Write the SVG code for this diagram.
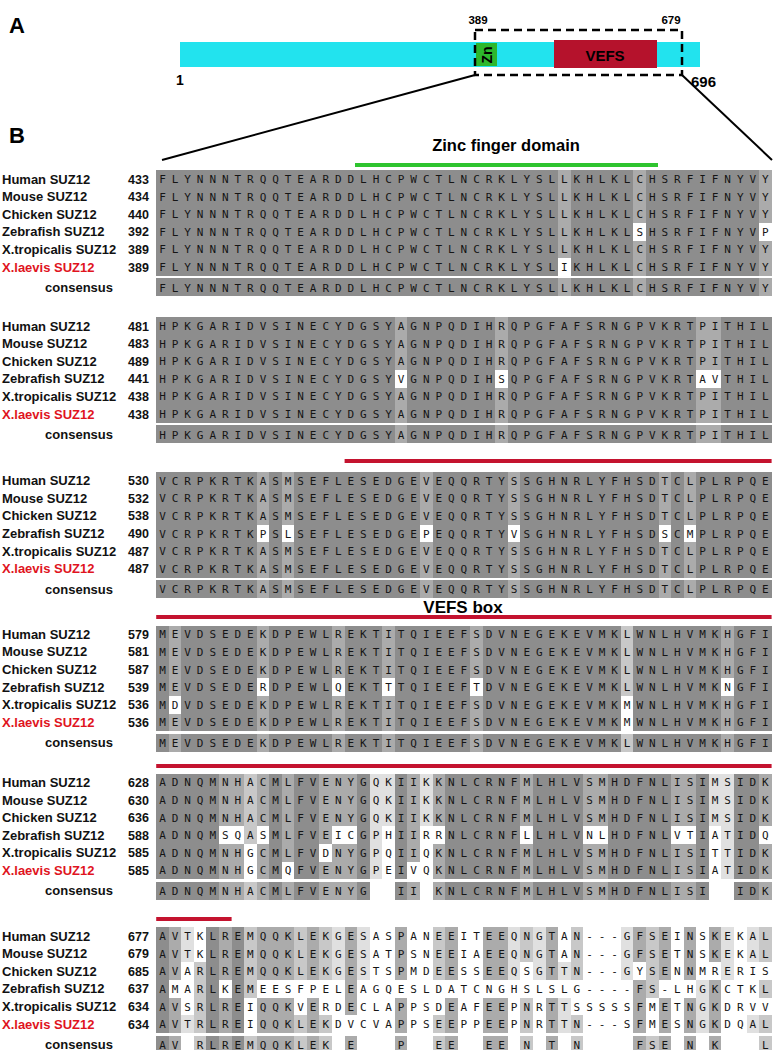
<svg xmlns="http://www.w3.org/2000/svg" width="777" height="1050" viewBox="0 0 777 1050">
<style>
.lab{font-family:'Liberation Sans',Arial,sans-serif;font-weight:bold;font-size:13px;fill:#111}
.num{font-size:12.5px}
.red{fill:#e0141e}
.seq{font-family:'DejaVu Sans Mono',monospace;font-size:11px;letter-spacing:5.937px;fill:#151515}
.d6{fill:#8d8d8d}.d5{fill:#ababab}.d4{fill:#c8c8c8}.d3{fill:#e0e0e0}.w{fill:#ffffff}
.bar{fill:#c4132f}
.big{font-family:'Liberation Sans',Arial,sans-serif;font-weight:bold}
</style>
<rect width="777" height="1050" fill="#fff"/>

<g id="panelA">
<text class="big" x="9" y="33" font-size="22">A</text>
<rect x="180" y="42" width="520" height="25" fill="#22e3ee"/>
<rect x="476" y="43" width="21" height="23" fill="#2db82d"/>
<text class="big" font-size="14" transform="translate(492,55) rotate(-90)" text-anchor="middle">Zn</text>
<rect x="554" y="40" width="103" height="28" fill="#b5122c"/>
<text class="big" x="605" y="61" font-size="15" text-anchor="middle">VEFS</text>
<rect x="475" y="30" width="207" height="45" fill="none" stroke="#000" stroke-width="2.5" stroke-dasharray="8,5"/>
<text class="big" x="478" y="24" font-size="11.5" text-anchor="middle">389</text>
<text class="big" x="671" y="24" font-size="11.5" text-anchor="middle">679</text>
<text class="big" x="176" y="85" font-size="14">1</text>
<text class="big" x="691" y="87" font-size="15">696</text>
</g>

<g id="connectors" stroke="#000" stroke-width="2" fill="none">
<line x1="475" y1="75" x2="162" y2="160"/>
<line x1="682" y1="75" x2="772" y2="160"/>
</g>

<g id="panelB-headers">
<text class="big" x="9" y="143" font-size="22">B</text>
<text class="big" x="506" y="151" font-size="16.5" text-anchor="middle">Zinc finger domain</text>
<rect x="355" y="163" width="303" height="4" fill="#2ec42e"/>
<rect class="bar" x="344.6" y="459" width="427" height="4"/>
<text class="big" x="463" y="613" font-size="17" text-anchor="middle">VEFS box</text>
<rect class="bar" x="156.2" y="615" width="615.4" height="4"/>
<rect class="bar" x="156.2" y="764" width="615.4" height="4"/>
<rect class="bar" x="156.2" y="917" width="75.4" height="4"/>
</g>

<!-- Block 1 -->
<g id="block1">
<g transform="translate(156.2,170.2) scale(12.56,17.6)" shape-rendering="crispEdges">
<rect class="d6" width="49" height="7.17"/>
<rect class="d5" x="32" width="1" height="7.17"/><rect class="d5" x="38" width="1" height="7.17"/><rect class="d5" x="48" width="1" height="7.17"/>
<rect class="w" x="32" y="5" width="1" height="1"/><rect class="w" x="38" y="3" width="1" height="1"/><rect class="w" x="48" y="3" width="1" height="1"/>
<rect class="w" y="6" width="49" height="0.15"/>
</g>
<g class="lab">
<text x="2" y="183.5">Human SUZ12</text><text x="2" y="201.1">Mouse SUZ12</text><text x="2" y="218.7">Chicken SUZ12</text><text x="2" y="236.3">Zebrafish SUZ12</text><text x="2" y="253.9">X.tropicalis SUZ12</text><text class="lab red" x="2" y="271.5">X.laevis SUZ12</text><text x="113" y="292" text-anchor="end">consensus</text>
<text class="lab num" x="128" y="183.5">433</text><text class="lab num" x="128" y="201.1">434</text><text class="lab num" x="128" y="218.7">440</text><text class="lab num" x="128" y="236.3">392</text><text class="lab num" x="128" y="253.9">389</text><text class="lab num" x="128" y="271.5">389</text>
</g>
<g class="seq">
<text x="159.17" y="183">FLYNNNTRQQTEARDDLHCPWCTLNCRKLYSLLKHLKLCHSRFIFNYVY</text>
<text x="159.17" y="200.6">FLYNNNTRQQTEARDDLHCPWCTLNCRKLYSLLKHLKLCHSRFIFNYVY</text>
<text x="159.17" y="218.2">FLYNNNTRQQTEARDDLHCPWCTLNCRKLYSLLKHLKLCHSRFIFNYVY</text>
<text x="159.17" y="235.8">FLYNNNTRQQTEARDDLHCPWCTLNCRKLYSLLKHLKLSHSRFIFNYVP</text>
<text x="159.17" y="253.4">FLYNNNTRQQTEARDDLHCPWCTLNCRKLYSLLKHLKLCHSRFIFNYVY</text>
<text x="159.17" y="271">FLYNNNTRQQTEARDDLHCPWCTLNCRKLYSLIKHLKLCHSRFIFNYVY</text>
<text x="159.17" y="291.5">FLYNNNTRQQTEARDDLHCPWCTLNCRKLYSLLKHLKLCHSRFIFNYVY</text>
</g>
</g>

<!-- Block 2 -->
<g id="block2">
<g transform="translate(156.2,317.2) scale(12.56,17.6)" shape-rendering="crispEdges">
<rect class="d6" width="49" height="7.17"/>
<rect class="d5" x="19" width="1" height="7.17"/><rect class="d5" x="27" width="1" height="7.17"/><rect class="d5" x="43" width="2" height="7.17"/>
<rect class="w" x="19" y="3" width="1" height="1"/><rect class="w" x="27" y="3" width="1" height="1"/><rect class="w" x="43" y="3" width="2" height="1"/>
<rect class="w" y="6" width="49" height="0.15"/>
</g>
<g class="lab">
<text x="2" y="330.5">Human SUZ12</text><text x="2" y="348.1">Mouse SUZ12</text><text x="2" y="365.7">Chicken SUZ12</text><text x="2" y="383.3">Zebrafish SUZ12</text><text x="2" y="400.9">X.tropicalis SUZ12</text><text class="lab red" x="2" y="418.5">X.laevis SUZ12</text><text x="113" y="439" text-anchor="end">consensus</text>
<text class="lab num" x="128" y="330.5">481</text><text class="lab num" x="128" y="348.1">483</text><text class="lab num" x="128" y="365.7">489</text><text class="lab num" x="128" y="383.3">441</text><text class="lab num" x="128" y="400.9">438</text><text class="lab num" x="128" y="418.5">438</text>
</g>
<g class="seq">
<text x="159.17" y="330">HPKGARIDVSINECYDGSYAGNPQDIHRQPGFAFSRNGPVKRTPITHIL</text>
<text x="159.17" y="347.6">HPKGARIDVSINECYDGSYAGNPQDIHRQPGFAFSRNGPVKRTPITHIL</text>
<text x="159.17" y="365.2">HPKGARIDVSINECYDGSYAGNPQDIHRQPGFAFSRNGPVKRTPITHIL</text>
<text x="159.17" y="382.8">HPKGARIDVSINECYDGSYVGNPQDIHSQPGFAFSRNGPVKRTAVTHIL</text>
<text x="159.17" y="400.4">HPKGARIDVSINECYDGSYAGNPQDIHRQPGFAFSRNGPVKRTPITHIL</text>
<text x="159.17" y="418">HPKGARIDVSINECYDGSYAGNPQDIHRQPGFAFSRNGPVKRTPITHIL</text>
<text x="159.17" y="438.5">HPKGARIDVSINECYDGSYAGNPQDIHRQPGFAFSRNGPVKRTPITHIL</text>
</g>
</g>

<!-- Block 3 -->
<g id="block3">
<g transform="translate(156.2,471.9) scale(12.56,17.6)" shape-rendering="crispEdges">
<rect class="d6" width="49" height="7.17"/>
<rect class="d5" x="8" width="1" height="7.17"/><rect class="d5" x="10" width="1" height="7.17"/><rect class="d5" x="21" width="1" height="7.17"/><rect class="d5" x="28" width="1" height="7.17"/><rect class="d5" x="40" width="1" height="7.17"/><rect class="d5" x="42" width="1" height="7.17"/>
<rect class="w" x="8" y="3" width="1" height="1"/><rect class="w" x="10" y="3" width="1" height="1"/><rect class="w" x="21" y="3" width="1" height="1"/><rect class="w" x="28" y="3" width="1" height="1"/><rect class="w" x="40" y="3" width="1" height="1"/><rect class="w" x="42" y="3" width="1" height="1"/>
<rect class="w" y="6" width="49" height="0.15"/>
</g>
<g class="lab">
<text x="2" y="485.2">Human SUZ12</text><text x="2" y="502.8">Mouse SUZ12</text><text x="2" y="520.4">Chicken SUZ12</text><text x="2" y="538">Zebrafish SUZ12</text><text x="2" y="555.6">X.tropicalis SUZ12</text><text class="lab red" x="2" y="573.2">X.laevis SUZ12</text><text x="113" y="593.7" text-anchor="end">consensus</text>
<text class="lab num" x="128" y="485.2">530</text><text class="lab num" x="128" y="502.8">532</text><text class="lab num" x="128" y="520.4">538</text><text class="lab num" x="128" y="538">490</text><text class="lab num" x="128" y="555.6">487</text><text class="lab num" x="128" y="573.2">487</text>
</g>
<g class="seq">
<text x="159.17" y="484.7">VCRPKRTKASMSEFLESEDGEVEQQRTYSSGHNRLYFHSDTCLPLRPQE</text>
<text x="159.17" y="502.3">VCRPKRTKASMSEFLESEDGEVEQQRTYSSGHNRLYFHSDTCLPLRPQE</text>
<text x="159.17" y="519.9">VCRPKRTKASMSEFLESEDGEVEQQRTYSSGHNRLYFHSDTCLPLRPQE</text>
<text x="159.17" y="537.5">VCRPKRTKPSLSEFLESEDGEPEQQRTYVSGHNRLYFHSDSCMPLRPQE</text>
<text x="159.17" y="555.1">VCRPKRTKASMSEFLESEDGEVEQQRTYSSGHNRLYFHSDTCLPLRPQE</text>
<text x="159.17" y="572.7">VCRPKRTKASMSEFLESEDGEVEQQRTYSSGHNRLYFHSDTCLPLRPQE</text>
<text x="159.17" y="593.2">VCRPKRTKASMSEFLESEDGEVEQQRTYSSGHNRLYFHSDTCLPLRPQE</text>
</g>
</g>

<!-- Block 4 -->
<g id="block4">
<g transform="translate(156.2,625.5) scale(12.56,17.6)" shape-rendering="crispEdges">
<rect class="d6" width="49" height="7.17"/>
<rect class="d5" x="1" width="1" height="7.17"/><rect class="d5" x="8" width="1" height="7.17"/><rect class="d5" x="14" width="1" height="7.17"/><rect class="d5" x="18" width="1" height="7.17"/><rect class="d5" x="25" width="1" height="7.17"/><rect class="d5" x="45" width="1" height="7.17"/><rect class="d4" x="37" width="1" height="7.17"/>
<rect class="w" x="1" y="4" width="1" height="1"/><rect class="w" x="8" y="3" width="1" height="1"/><rect class="w" x="14" y="3" width="1" height="1"/><rect class="w" x="18" y="3" width="1" height="1"/><rect class="w" x="25" y="3" width="1" height="1"/><rect class="w" x="45" y="3" width="1" height="1"/><rect class="w" x="37" y="4" width="1" height="2"/>
<rect class="w" y="6" width="49" height="0.15"/>
</g>
<g class="lab">
<text x="2" y="638.8">Human SUZ12</text><text x="2" y="656.4">Mouse SUZ12</text><text x="2" y="674">Chicken SUZ12</text><text x="2" y="691.6">Zebrafish SUZ12</text><text x="2" y="709.2">X.tropicalis SUZ12</text><text class="lab red" x="2" y="726.8">X.laevis SUZ12</text><text x="113" y="747.3" text-anchor="end">consensus</text>
<text class="lab num" x="128" y="638.8">579</text><text class="lab num" x="128" y="656.4">581</text><text class="lab num" x="128" y="674">587</text><text class="lab num" x="128" y="691.6">539</text><text class="lab num" x="128" y="709.2">536</text><text class="lab num" x="128" y="726.8">536</text>
</g>
<g class="seq">
<text x="159.17" y="638.3">MEVDSEDEKDPEWLREKTITQIEEFSDVNEGEKEVMKLWNLHVMKHGFI</text>
<text x="159.17" y="655.9">MEVDSEDEKDPEWLREKTITQIEEFSDVNEGEKEVMKLWNLHVMKHGFI</text>
<text x="159.17" y="673.5">MEVDSEDEKDPEWLREKTITQIEEFSDVNEGEKEVMKLWNLHVMKHGFI</text>
<text x="159.17" y="691.1">MEVDSEDERDPEWLQEKTTTQIEEFTDVNEGEKEVMKLWNLHVMKNGFI</text>
<text x="159.17" y="708.7">MDVDSEDEKDPEWLREKTITQIEEFSDVNEGEKEVMKMWNLHVMKHGFI</text>
<text x="159.17" y="726.3">MEVDSEDEKDPEWLREKTITQIEEFSDVNEGEKEVMKMWNLHVMKHGFI</text>
<text x="159.17" y="746.8">MEVDSEDEKDPEWLREKTITQIEEFSDVNEGEKEVMKLWNLHVMKHGFI</text>
</g>
</g>

<!-- Block 5 -->
<g id="block5">
<g transform="translate(156.2,773.6) scale(12.56,17.6)" shape-rendering="crispEdges">
<rect class="d6" width="49" height="7.17"/>
<rect class="d5" x="5" width="2" height="7.17"/><rect class="d4" x="7" width="1" height="7.17"/><rect class="d5" x="8" width="1" height="7.17"/><rect class="d5" x="10" width="1" height="7.17"/><rect class="d5" x="13" width="3" height="7.17"/><rect class="d5" x="20" width="1" height="7.17"/><rect class="d5" x="22" width="1" height="7.17"/><rect class="d5" x="29" width="1" height="7.17"/><rect class="d5" x="34" width="2" height="7.17"/><rect class="d5" x="41" width="2" height="7.17"/><rect class="d5" x="48" width="1" height="7.17"/>
<rect class="w" x="5" y="3" width="2" height="1"/><rect class="w" x="7" y="4" width="1" height="2"/><rect class="w" x="8" y="3" width="1" height="1"/><rect class="w" x="10" y="5" width="1" height="1"/><rect class="w" x="13" y="4" width="1" height="1"/><rect class="w" x="14" y="3" width="2" height="1"/><rect class="w" x="20" y="5" width="1" height="1"/><rect class="w" x="22" y="3" width="1" height="1"/><rect class="w" x="29" y="3" width="1" height="1"/><rect class="w" x="34" y="3" width="2" height="1"/><rect class="w" x="41" y="3" width="2" height="1"/><rect class="w" x="48" y="3" width="1" height="1"/>
<rect class="d3" x="17" width="1" height="6"/><rect class="w" x="17" y="6" width="1" height="1.17"/>
<rect class="d3" x="18" width="1" height="3"/><rect class="w" x="18" y="3" width="1" height="4.17"/>
<rect class="d3" x="21" width="1" height="3"/><rect class="w" x="21" y="3" width="1" height="4.17"/>
<rect class="d3" x="44" width="1" height="3"/><rect class="w" x="44" y="3" width="1" height="4.17"/>
<rect class="d3" x="45" width="1" height="6"/><rect class="w" x="45" y="6" width="1" height="1.17"/>
<rect class="w" y="6" width="49" height="0.15"/>
</g>
<g class="lab">
<text x="2" y="786.9">Human SUZ12</text><text x="2" y="804.5">Mouse SUZ12</text><text x="2" y="822.1">Chicken SUZ12</text><text x="2" y="839.7">Zebrafish SUZ12</text><text x="2" y="857.3">X.tropicalis SUZ12</text><text class="lab red" x="2" y="874.9">X.laevis SUZ12</text><text x="113" y="895.4" text-anchor="end">consensus</text>
<text class="lab num" x="128" y="786.9">628</text><text class="lab num" x="128" y="804.5">630</text><text class="lab num" x="128" y="822.1">636</text><text class="lab num" x="128" y="839.7">588</text><text class="lab num" x="128" y="857.3">585</text><text class="lab num" x="128" y="874.9">585</text>
</g>
<g class="seq">
<text x="159.17" y="786.4">ADNQMNHACMLFVENYGQKIIKKNLCRNFMLHLVSMHDFNLISIMSIDK</text>
<text x="159.17" y="804">ADNQMNHACMLFVENYGQKIIKKNLCRNFMLHLVSMHDFNLISIMSIDK</text>
<text x="159.17" y="821.6">ADNQMNHACMLFVENYGQKIIKKNLCRNFMLHLVSMHDFNLISIMSIDK</text>
<text x="159.17" y="839.2">ADNQMSQASMLFVEICGPHIIRRNLCRNFLLHLVNLHDFNLVTIATIDQ</text>
<text x="159.17" y="856.8">ADNQMNHGCMLFVDNYGPQIIQKNLCRNFMLHLVSMHDFNLISITTIDK</text>
<text x="159.17" y="874.4">ADNQMNHGCMQFVENYGPEIVQKNLCRNFMLHLVSMHDFNLISIATIDK</text>
<text x="159.17" y="894.9">ADNQMNHACMLFVENYG&#160;&#160;II&#160;KNLCRNFMLHLVSMHDFNLISI&#160;&#160;IDK</text>
</g>
</g>

<!-- Block 6 -->
<g id="block6">
<g transform="translate(156.2,927.3) scale(12.56,17.6)" shape-rendering="crispEdges">
<rect class="d6" x="0" width="1" height="7.17"/><rect class="d6" x="4" width="1" height="7.17"/><rect class="d6" x="6" width="1" height="7.17"/>
<rect class="d5" x="1" width="1" height="7.17"/><rect class="d5" x="5" width="1" height="7.17"/><rect class="d5" x="8" width="3" height="7.17"/><rect class="d5" x="12" width="1" height="7.17"/><rect class="d5" x="15" width="1" height="7.17"/><rect class="d5" x="19" width="1" height="7.17"/><rect class="d5" x="23" width="1" height="7.17"/><rect class="d5" x="26" width="2" height="7.17"/><rect class="d5" x="31" width="1" height="7.17"/><rect class="d5" x="38" width="1" height="7.17"/><rect class="d5" x="40" width="1" height="7.17"/><rect class="d5" x="42" width="1" height="7.17"/><rect class="d5" x="44" width="1" height="7.17"/>
<rect class="w" x="1" y="3" width="1" height="1"/><rect class="w" x="5" y="3" width="1" height="1"/><rect class="w" x="8" y="3" width="3" height="1"/><rect class="w" x="12" y="3" width="1" height="1"/><rect class="w" x="15" y="5" width="1" height="1"/><rect class="w" x="19" y="3" width="1" height="1"/><rect class="w" x="23" y="3" width="1" height="1"/><rect class="w" x="26" y="3" width="2" height="1"/><rect class="w" x="31" y="3" width="1" height="1"/><rect class="w" x="38" y="2" width="1" height="1"/><rect class="w" x="40" y="3" width="1" height="1"/><rect class="w" x="42" y="3" width="1" height="1"/><rect class="w" x="44" y="2" width="1" height="1"/>
<rect class="d4" x="3" width="1" height="7.17"/><rect class="d4" x="7" width="1" height="7.17"/><rect class="d4" x="11" width="1" height="7.17"/><rect class="d4" x="13" width="1" height="7.17"/><rect class="d4" x="22" width="1" height="7.17"/><rect class="d4" x="29" width="1" height="7.17"/><rect class="d4" x="33" width="1" height="7.17"/><rect class="d4" x="39" width="1" height="7.17"/><rect class="d4" x="48" width="1" height="7.17"/>
<rect class="w" x="3" y="0" width="1" height="2"/><rect class="w" x="7" y="4" width="1" height="2"/><rect class="w" x="11" y="3" width="1" height="2"/><rect class="w" x="13" y="3" width="1" height="2"/><rect class="w" x="22" y="3" width="1" height="2"/><rect class="w" x="29" y="2" width="1" height="2"/><rect class="w" x="33" y="3" width="1" height="2"/><rect class="w" x="39" y="4" width="1" height="2"/><rect class="w" x="48" y="2" width="1" height="1"/><rect class="w" x="48" y="4" width="1" height="1"/>
<rect class="d3" x="2" width="1" height="2"/><rect class="d3" x="2" y="5" width="1" height="1"/>
<rect class="d3" x="14" width="1" height="3"/><rect class="d3" x="16" width="1" height="3"/><rect class="d3" x="28" width="1" height="3"/><rect class="d3" x="30" width="1" height="3"/>
<rect class="d3" x="32" y="2" width="1" height="1"/><rect class="d3" x="32" y="4" width="1" height="2"/>
<rect class="d3" x="37" width="1" height="3"/><rect class="d3" x="43" y="3" width="1" height="3"/><rect class="d3" x="45" width="1" height="3"/>
<rect class="d3" x="47" width="1" height="2"/><rect class="d3" x="47" y="5" width="1" height="1"/>
<rect class="w" y="6" width="49" height="0.15"/>
</g>
<g class="lab">
<text x="2" y="940.6">Human SUZ12</text><text x="2" y="958.2">Mouse SUZ12</text><text x="2" y="975.8">Chicken SUZ12</text><text x="2" y="993.4">Zebrafish SUZ12</text><text x="2" y="1011">X.tropicalis SUZ12</text><text class="lab red" x="2" y="1028.6">X.laevis SUZ12</text><text x="113" y="1049" text-anchor="end">consensus</text>
<text class="lab num" x="128" y="940.6">677</text><text class="lab num" x="128" y="958.2">679</text><text class="lab num" x="128" y="975.8">685</text><text class="lab num" x="128" y="993.4">637</text><text class="lab num" x="128" y="1011">634</text><text class="lab num" x="128" y="1028.6">634</text>
</g>
<g class="seq">
<text x="159.17" y="940.1">AVTKLREMQQKLEKGESASPANEEITEEQNGTAN---GFSEINSKEKAL</text>
<text x="159.17" y="957.7">AVTKLREMQQKLEKGESATPSNEEIAEEQNGTAN---GFSETNSKEKAL</text>
<text x="159.17" y="975.3">AVARLREMQQKLEKGESTSPMDEESSEEQSGTTN---GYSENNMRERIS</text>
<text x="159.17" y="992.9">AMARLKEMEESFPELEAGQESLDATCNGHSLSLG----FS-LHGKCTKL</text>
<text x="159.17" y="1010.5">AVSRLREIQQKVERDECLAPPSDEAFEEPNRTTSSSSSFMETNGKDRVV</text>
<text x="159.17" y="1028.1">AVTRLREIQQKLEKDVCVAPPSEEPPEEPNRTTN---SFMESNGKDQAL</text>
<text x="159.17" y="1048.6">AV&#160;RLREMQQKLEK&#160;E&#160;&#160;&#160;P&#160;&#160;EE&#160;&#160;EE&#160;N&#160;T&#160;N&#160;&#160;&#160;&#160;FSE&#160;N&#160;K&#160;&#160;&#160;L</text>
</g>
</g>
</svg>
